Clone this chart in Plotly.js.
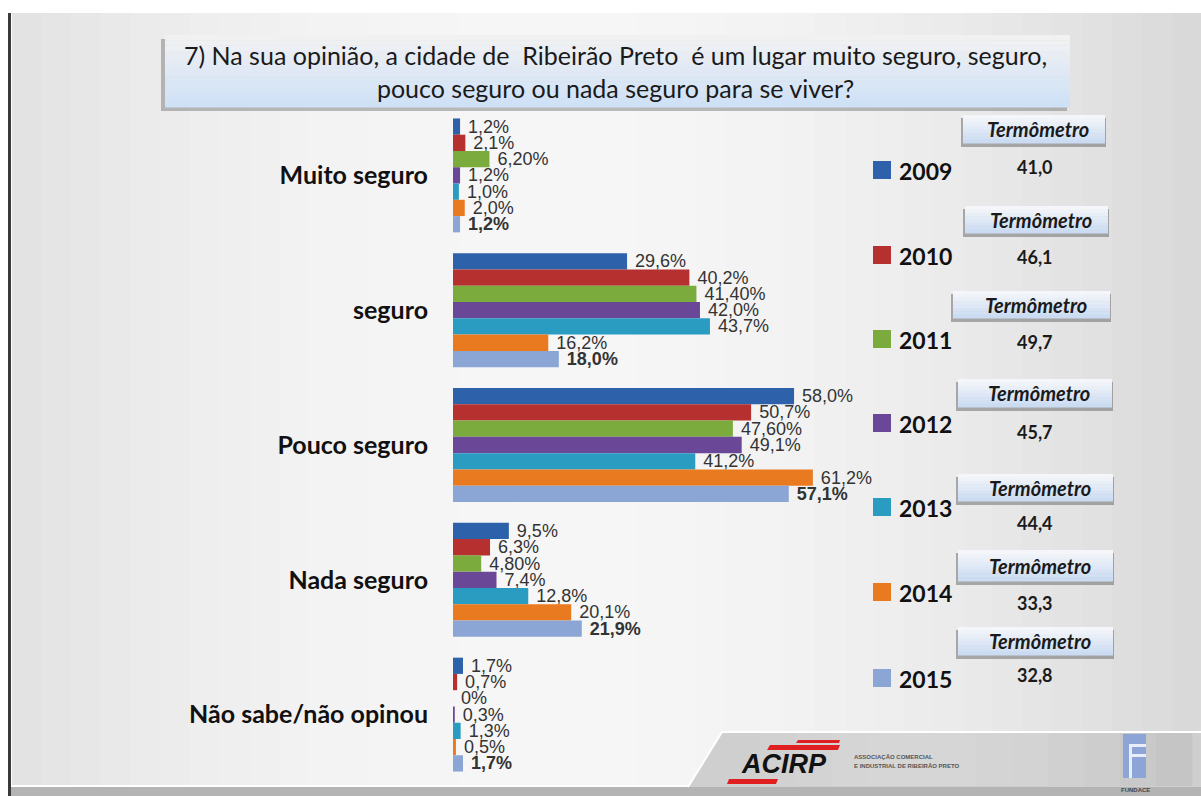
<!DOCTYPE html>
<html>
<head>
<meta charset="utf-8">
<script src="https://cdn.plot.ly/plotly-3.0.1.min.js"></script>
<style>html,body{margin:0;padding:0;background:#fff;}#chart{width:1201px;height:796px;}</style>
</head>
<body>
<div id="chart"></div>
<script>
// ---------- DATA ----------
const categories = ["Muito seguro", "seguro", "Pouco seguro", "Nada seguro", "Não sabe/não opinou"];
const years = ["2009", "2010", "2011", "2012", "2013", "2014", "2015"];
const v2009 = [1.2, 29.6, 58.0, 9.5, 1.7];
const v2010 = [2.1, 40.2, 50.7, 6.3, 0.7];
const v2011 = [6.2, 41.4, 47.6, 4.8, 0];
const v2012 = [1.2, 42.0, 49.1, 7.4, 0.3];
const v2013 = [1.0, 43.7, 41.2, 12.8, 1.3];
const v2014 = [2.0, 16.2, 61.2, 20.1, 0.5];
const v2015 = [1.2, 18.0, 57.1, 21.9, 1.7];
const t2009 = ["1,2%", "29,6%", "58,0%", "9,5%", "1,7%"];
const t2010 = ["2,1%", "40,2%", "50,7%", "6,3%", "0,7%"];
const t2011 = ["6,20%", "41,40%", "47,60%", "4,80%", "0%"];
const t2012 = ["1,2%", "42,0%", "49,1%", "7,4%", "0,3%"];
const t2013 = ["1,0%", "43,7%", "41,2%", "12,8%", "1,3%"];
const t2014 = ["2,0%", "16,2%", "61,2%", "20,1%", "0,5%"];
const t2015 = ["1,2%", "18,0%", "57,1%", "21,9%", "1,7%"];
const thermoLabel = "Termômetro";
const thermoValues = ["41,0", "46,1", "49,7", "45,7", "44,4", "33,3", "32,8"];
const titleText = "7) Na sua opinião, a cidade de  Ribeirão Preto  é um lugar muito seguro, seguro,<br>pouco seguro ou nada seguro para se viver?";

// ---------- STYLE / LAYOUT ----------
const colors = ["#2d62aa", "#b5302e", "#7aab3c", "#6a4797", "#2a9bc1", "#ea7a20", "#8ba5d5"];
const seriesValues = [v2009, v2010, v2011, v2012, v2013, v2014, v2015];
const seriesText = [t2009, t2010, t2011, t2012, t2013, t2014, t2015];

const W = 1201, H = 796;
const M = {l: 453, r: 337, t: 108, b: 14};
const PW = W - M.l - M.r, PH = H - M.t - M.b;
const px = x => (x - M.l) / PW;
const py = y => 1 - (y - M.t) / PH;

const shapes = [];
const annotations = [];
function rect(x0, y0, x1, y1, fill, extra) {
  shapes.push(Object.assign({type: "rect", xref: "paper", yref: "paper", x0: px(x0), x1: px(x1), y0: py(y1), y1: py(y0),
    fillcolor: fill, line: {width: 0}, layer: "below"}, extra || {}));
}
function pathShape(pts, fill, lineColor, lineWidth, closed) {
  let d = pts.map((p, i) => (i ? "L" : "M") + px(p[0]) + "," + py(p[1])).join(" ") + (closed ? " Z" : "");
  shapes.push({type: "path", xref: "paper", yref: "paper", path: d, fillcolor: fill || "rgba(0,0,0,0)",
    line: {color: lineColor || "rgba(0,0,0,0)", width: lineWidth || 0}, layer: "below"});
}
function mix(a, b, t) {
  const pa = [1, 3, 5].map(i => parseInt(a.substr(i, 2), 16));
  const pb = [1, 3, 5].map(i => parseInt(b.substr(i, 2), 16));
  return "rgb(" + pa.map((v, i) => Math.round(v + (pb[i] - v) * t)).join(",") + ")";
}
function gradBox(x0, y0, x1, y1, cTop, cBot, n) {
  const h = (y1 - y0) / n;
  for (let i = 0; i < n; i++) rect(x0, y0 + i * h, x1, y0 + (i + 1) * h + 0.5, mix(cTop, cBot, i / (n - 1)));
}
function text(x, y, str, font, xanchor, yanchor) {
  annotations.push({xref: "paper", yref: "paper", x: px(x), y: py(y), text: str, showarrow: false,
    xanchor: xanchor || "center", yanchor: yanchor || "middle", font: font});
}

// slide background: horizontal gray gradient
const nStrips = 40;
for (let i = 0; i < nStrips; i++) {
  const x0 = 12 + i * (W - 12) / nStrips, x1 = x0 + (W - 12) / nStrips + 0.5;
  const t = (i + 0.5) / nStrips;
  const L = Math.round(246 - 30 * Math.pow((t - 0.45) / 0.55, 2));
  rect(x0, 13, x1, 787, "rgb(" + L + "," + L + "," + L + ")");
}
rect(8, 13, 11, 796, "#3a3a3a");
// footer
rect(11, 787, W, 796, "#b4b4b4");
pathShape([[11, 786], [W, 786]], null, "#ffffff", 2, false);
pathShape([[688, 787], [722, 732], [W, 732], [W, 787]], "#cfcfcf", null, 0, true);
for (let i = 0; i < 12; i++) {
  const x0 = 760 + i * 36, t = i / 11;
  const L = Math.round(214 - 40 * Math.pow(t - 0.35, 2));
  rect(x0, 733, x0 + 36.5, 786, "rgb(" + L + "," + L + "," + L + ")");
}
pathShape([[688, 787], [722, 732], [W, 732]], null, "#ffffff", 2, false);
// ACIRP logo
pathShape([[798, 740], [840, 740], [839, 743], [796, 743]], "#e02020", null, 0, true);
pathShape([[770, 745], [840, 745], [838, 750], [767, 750]], "#e02020", null, 0, true);
pathShape([[729, 779], [778, 779], [776, 784], [727, 784]], "#e02020", null, 0, true);
text(784, 764, "ACIRP", {family: "Liberation Sans", size: 27, color: "#111111", weight: "bold", style: "italic"});
text(852, 757, "ASSOCIAÇÃO COMERCIAL", {family: "Liberation Sans", size: 6, color: "#555555", weight: "bold"}, "left");
text(852, 766, "E INDUSTRIAL DE RIBEIRÃO PRETO", {family: "Liberation Sans", size: 6, color: "#555555", weight: "bold"}, "left");
// FUNDACE logo
rect(1123, 734, 1146, 778, "#8ca5d6");
rect(1129, 744, 1146, 747, "#e8eef8");
rect(1129, 754, 1146, 757, "#e8eef8");
rect(1129, 744, 1132, 778, "#e8eef8");
text(1135, 790, "FUNDACE", {family: "Liberation Sans", size: 6, color: "#444444", weight: "bold"});

// title box
rect(161, 39, 1067, 111, "rgba(110,110,110,0.45)");
gradBox(165, 35, 1070, 107, "#f1f1f2", "#cfe1f6", 14);
text(615, 72, titleText, {family: "Lato", size: 25, color: "#1a1a1a"});

// legend + thermometer boxes
const legendY = [170, 255, 339, 423, 507, 592, 678];
const boxes = [[963, 115, 1105, 143], [965, 206, 1108, 233], [953, 291, 1110, 318], [958, 379, 1112, 407],
  [958, 474, 1113, 501], [958, 550, 1113, 581], [958, 627, 1113, 655]];
const valueY = [167, 257, 342, 432, 523, 603, 675];
years.forEach((yr, i) => {
  rect(873, legendY[i] - 9, 891, legendY[i] + 9, colors[i]);
  text(897, legendY[i] + 1, yr, {family: "Lato", size: 23, color: "#111111", weight: "bold"}, "left");
  const b = boxes[i];
  rect(b[0] - 2, b[1] + 3, b[2] + 1, b[3] + 4, "rgba(100,100,100,0.5)");
  gradBox(b[0], b[1], b[2], b[3], "#f5f6f9", "#cbdcf2", 8);
  text((b[0] + b[2]) / 2 + 4, (b[1] + b[3]) / 2, thermoLabel, {family: "Lato", size: 20, color: "#1a1a1a", weight: "bold", style: "italic"});
  text(1035, valueY[i], thermoValues[i], {family: "Lato", size: 18, color: "#1a1a1a", weight: "bold"});
});

// ---------- TRACES ----------
const traces = years.map((yr, i) => ({
  type: "bar", orientation: "h", name: yr,
  y: categories, x: seriesValues[i], text: seriesText[i],
  texttemplate: " %{text}",
  textposition: "outside", cliponaxis: false, constraintext: "none",
  textfont: {family: "Liberation Sans", size: 18, color: "#333333", weight: i === 6 ? "bold" : "normal"},
  marker: {color: colors[i], line: {width: 0}},
  hoverinfo: "x+y+name"
}));

const layout = {
  width: W, height: H,
  margin: M,
  paper_bgcolor: "#ffffff", plot_bgcolor: "rgba(0,0,0,0)",
  barmode: "group", bargap: 0.155, bargroupgap: 0,
  showlegend: false,
  xaxis: {range: [0, PW / 5.88], visible: false, fixedrange: true},
  yaxis: {autorange: "reversed", showline: false, showgrid: false, zeroline: false, ticks: "",
    ticklabelstandoff: 24, fixedrange: true,
    tickfont: {family: "Lato", size: 25, color: "#111111", weight: "bold"}},
  shapes: shapes, annotations: annotations,
  font: {family: "Lato"}
};

Plotly.newPlot("chart", traces, layout, {displayModeBar: false, staticPlot: true});
</script>
</body>
</html>
